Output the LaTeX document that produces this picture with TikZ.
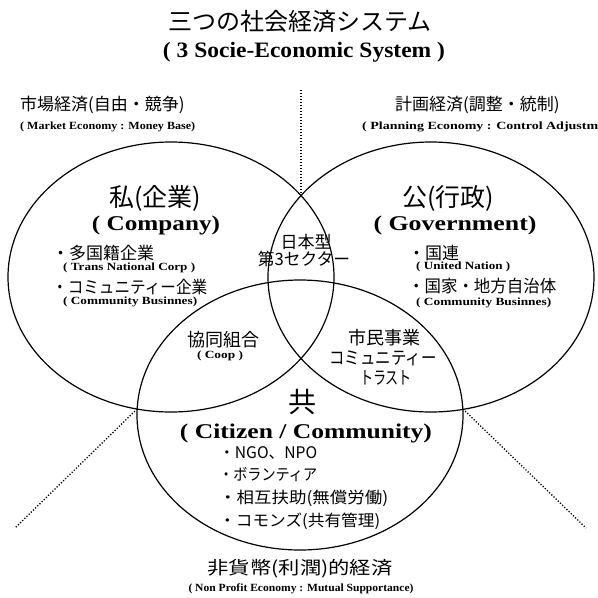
\documentclass[tikz,border=0pt]{standalone}
\usepackage{fontspec}
\usepackage{graphicx}
\setmainfont{Liberation Serif}
\newfontfamily\jp{Noto Sans CJK JP}
\usetikzlibrary{shapes.geometric}
\newcommand\fitw[2]{\resizebox{#1pt}{\height}{#2}}
\newcommand\fs[1]{\fontsize{#1}{#1}\selectfont}
\tikzset{
  circ/.style={ellipse, draw, line width=1.2pt, minimum width=326pt, minimum height=270pt, inner sep=0pt},
  jtext/.style={font=\jp, inner sep=0pt},
  btext/.style={font=\bfseries, inner sep=0pt},
  lab/.style={font=\bfseries\fs{11}, inner sep=0pt},
  dots/.style={line width=1.3pt, dash pattern=on 1.2pt off 1.8pt},
}
\begin{document}
\begin{tikzpicture}[x=1pt,y=-1pt]
\useasboundingbox (0,0) rectangle (598,598);
\fill[white] (0,0) rectangle (598,598);
\clip (0,0) rectangle (598,598);

% circles
\node[circ] (L) at (171,277) {};
\node[circ] (R) at (431,277) {};
\node[circ] (B) at (300,415) {};

% intersection points and free ends
\coordinate (LRtop) at (301,193);
\coordinate (LB) at (137,409);
\coordinate (RB) at (463,409);
\coordinate (topEnd) at (301,90);
\coordinate (leftEnd) at (15,528);
\coordinate (rightEnd) at (586,528);

\draw[dots] (topEnd) -- (LRtop);
\draw[dots] (LB) -- (leftEnd);
\draw[dots] (RB) -- (rightEnd);

% titles
\node[jtext, font=\jp\fs{24}] (t1) at (300,21) {三つの社会経済システム};
\node[btext] (t2) at (304,52) {\fitw{282}{\fs{22}( 3 Socie-Economic System )}};

\node[jtext, font=\jp\fs{17}, anchor=west] (mkt) at (20,105) {市場経済(自由・競争)};
\node[lab, anchor=west] (mktE) at (20,127) {\fitw{175}{( Market Economy : Money Base)}};
\node[jtext, font=\jp\fs{17}, anchor=west] (plan) at (395,105) {計画経済(調整・統制)};
\node[lab, anchor=west] (planE) at (362,127) {\fitw{236}{( Planning Economy : Control Adjustm}};

% left circle
\node[jtext, font=\jp\fs{25}] (pri) at (155,198) {私(企業)};
\node[btext] (priE) at (156,225) {\fitw{128}{\fs{21}( Company)}};
\node[jtext, font=\jp\fs{17}, anchor=west] (p1) at (52,253) {・多国籍企業};
\node[lab, anchor=west] (p1E) at (63,268) {\fitw{132}{( Trans National Corp )}};
\node[jtext, font=\jp\fs{17}, anchor=west] (p2) at (52,287) {\fitw{155}{・コミュニティー企業}};
\node[lab, anchor=west] (p2E) at (63,302) {\fitw{134}{( Community Businnes)}};

% right circle
\node[jtext, font=\jp\fs{25}] (pub) at (448,198) {公(行政)};
\node[btext] (pubE) at (455,225) {\fitw{163}{\fs{21}( Government)}};
\node[jtext, font=\jp\fs{17}, anchor=west] (g1) at (408,253) {・国連};
\node[lab, anchor=west] (g1E) at (416,267) {\fitw{94}{( United Nation )}};
\node[jtext, font=\jp\fs{17}, anchor=west] (g2) at (408,286) {\fitw{148}{・国家・地方自治体}};
\node[lab, anchor=west] (g2E) at (416,303) {\fitw{135}{( Community Businnes)}};

% centre
\node[jtext, font=\jp\fs{17}] (j1) at (306,242) {日本型};
\node[jtext, font=\jp\fs{17}] (j2) at (304,259) {\fitw{92}{第3セクター}};

% left-bottom overlap
\node[jtext, font=\jp\fs{18}] (coop) at (223,340) {協同組合};
\node[lab] (coopE) at (220,356) {\fitw{46}{( Coop )}};

% right-bottom overlap
\node[jtext, font=\jp\fs{18}] (civ1) at (384,338) {市民事業};
\node[jtext, font=\jp\fs{18}] (civ2) at (383,358) {\fitw{107}{コミュニティー}};
\node[jtext, font=\jp\fs{18}] (civ3) at (386,378) {\fitw{52}{トラスト}};

% bottom circle
\node[jtext, font=\jp\fs{28}] (kyo) at (302,402) {共};
\node[btext] (kyoE) at (306,433) {\fitw{252}{\fs{21}( Citizen / Community)}};
\node[jtext, font=\jp\fs{16}, anchor=west] (c1) at (219,453) {\fitw{98}{・NGO、NPO}};
\node[jtext, font=\jp\fs{16}, anchor=west] (c2) at (219,475) {\fitw{98}{・ボランティア}};
\node[jtext, font=\jp\fs{16}, anchor=west] (c3) at (219,498) {\fitw{169}{・相互扶助(無償労働)}};
\node[jtext, font=\jp\fs{16}, anchor=west] (c4) at (219,521) {\fitw{161}{・コモンズ(共有管理)}};

% bottom caption
\node[jtext, font=\jp\fs{18}] (np) at (300,569) {\fitw{185}{非貨幣(利潤)的経済}};
\node[lab] (npE) at (301,589) {\fitw{225}{( Non Profit Economy : Mutual Supportance)}};
\end{tikzpicture}
\end{document}
